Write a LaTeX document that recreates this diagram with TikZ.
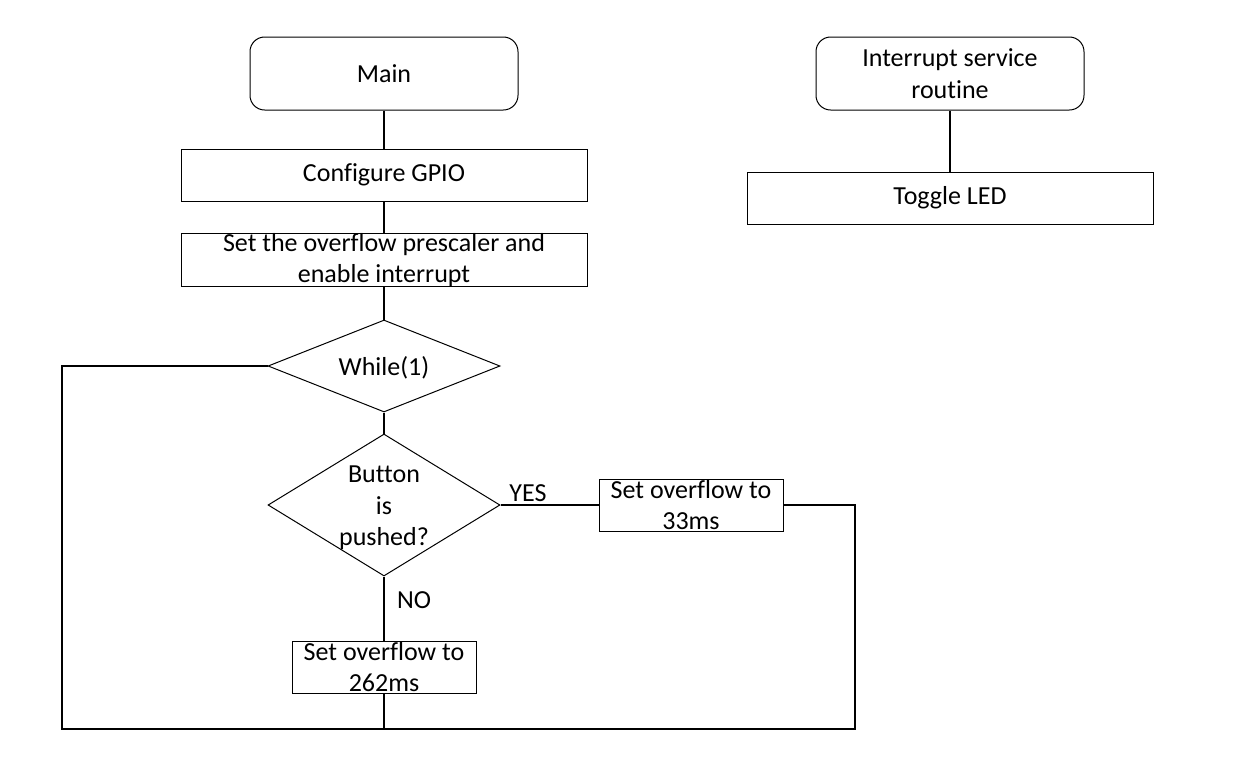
\documentclass[tikz,border=0pt]{standalone}
\usepackage{fontspec}
\setmainfont[Ligatures=CommonOff]{Carlito}
\usetikzlibrary{shapes.geometric}
\begin{document}
\begin{tikzpicture}[x=0.75pt,y=-0.75pt,
  box/.style={draw, line width=0.75pt, align=center, inner sep=0pt, font=\fontsize{19.5}{23.5}\selectfont},
  rbox/.style={box, rounded corners=11pt, minimum width=201pt, minimum height=54.75pt},
  wbox/.style={box, minimum width=304.5pt, minimum height=39pt},
  sbox/.style={box, minimum width=138pt, minimum height=39pt},
  dia/.style={draw, diamond, line width=0.75pt, inner sep=0pt},
  lbl/.style={align=center, inner sep=0pt, font=\fontsize{19.5}{23.5}\selectfont},
  conn/.style={line width=1.5pt}]
\useasboundingbox (0,0) rectangle (1257,758);
% main column
\node[rbox] (main) at (384,73.5) {Main};
\node[wbox] (conf) at (384,175) {Configure GPIO};
\node[wbox] (pre) at (384,260) {Set the overflow prescaler and\\enable interrupt};
\node[dia, minimum width=174pt, minimum height=69pt] (wh) at (384,366) {};
\node[lbl] (whl) at (384,368) {While(1)};
\node[dia, minimum width=174pt, minimum height=106.5pt] (btn) at (384,505) {};
\node[lbl] (btnl) at (384,508) {Button\\is\\pushed?};
\node[sbox] (slow) at (384,667) {Set overflow to\\262ms};
\node[sbox] (fast) at (691,505) {Set overflow to\\33ms};
\node[lbl] (yes) at (528,493) {YES};
\node[lbl] (no) at (414,600) {NO};
% ISR
\node[rbox] (isr) at (950,73.5) {Interrupt service\\routine};
\node[wbox] (tog) at (950,198) {Toggle LED};
% coordinates
\coordinate (bm) at (384,729);
\coordinate (bl) at (62,729);
\coordinate (tl) at (62,366);
\coordinate (tr) at (855,505);
\coordinate (br) at (855,729);
% connectors
\draw[conn] (main.south) -- (conf.north);
\draw[conn] (conf.south) -- (pre.north);
\draw[conn] (pre.south) -- (wh.north);
\draw[conn] (wh.south) -- (btn.north);
\draw[conn] (btn.south) -- (slow.north);
\draw[conn] (btn.east) -- (fast.west);
\draw[conn] (slow.south) -- (bm);
\draw[conn] (fast.east) -- (tr) -- (br) -- (bl) -- (tl) -- (wh.west);
\draw[conn] (isr.south) -- (tog.north);
\end{tikzpicture}
\end{document}
